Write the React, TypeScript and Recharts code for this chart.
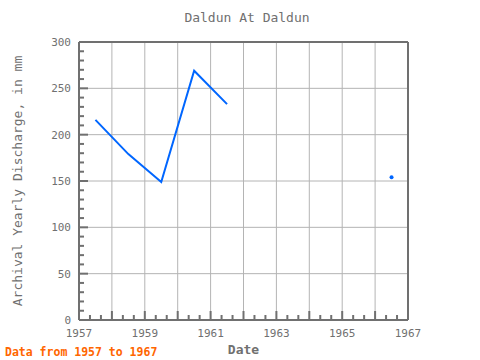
import React from 'react';
import { ComposedChart, Line, XAxis, YAxis, ReferenceLine } from 'recharts';

// yearly values, mid-year positions
const years = [1957.5, 1958.5, 1959.5, 1960.5, 1961.5, 1962.5, 1963.5, 1964.5, 1965.5, 1966.5];
const discharge: Array<number | null> = [216, 179, 149, 269, 233, null, null, null, null, 154];

const xMajor = [1957, 1958, 1959, 1960, 1961, 1962, 1963, 1964, 1965, 1966, 1967];
const xLabels = [1957, 1959, 1961, 1963, 1965, 1967];
const yMajor = [0, 50, 100, 150, 200, 250, 300];

const xAll: number[] = [];
for (let y = 1957; y < 1967; y++) xAll.push(y, y + 1 / 3, y + 2 / 3);
xAll.push(1967);
const yAll: number[] = [];
for (let v = 0; v <= 300; v += 10) yAll.push(v);

const data = years.map((year, i) => ({ year, value: discharge[i] }));

const AXIS = '#707070';
const TEXT = '#707070';
const GRID = '#b4b4b4';
const FONT = '"DejaVu Sans Mono", monospace';

const isMajorX = (v: number) => Math.abs(v - Math.round(v)) < 1e-6;
const isMajorY = (v: number) => v % 50 === 0;

const tickMark = (side: 'bottom' | 'top' | 'left' | 'right', x: number, y: number, v: number) => {
  const major = side === 'bottom' || side === 'top' ? isMajorX(v) : isMajorY(v);
  const len = major ? 9 : 5;
  let x2 = x;
  let y2 = y;
  if (side === 'bottom') y2 = y - len;
  if (side === 'top') y2 = y + len;
  if (side === 'left') x2 = x + len;
  if (side === 'right') x2 = x - len;
  return <line x1={x} y1={y} x2={x2} y2={y2} stroke={AXIS} strokeWidth={2} />;
};

const mark = (side: 'top' | 'right') => (props: any) => {
  const { x, y, payload } = props;
  return tickMark(side, x, y, payload.value);
};

const bottomTick = (props: any) => {
  const { x, y, payload } = props;
  const v = payload.value;
  const label = xLabels.find((l) => Math.abs(l - v) < 1e-6);
  return (
    <g>
      {tickMark('bottom', x, y, v)}
      {label !== undefined && (
        <text x={x} y={y + 9} dy="0.71em" textAnchor="middle" fill={TEXT} fontSize={11} fontFamily={FONT}>
          {label}
        </text>
      )}
    </g>
  );
};

const leftTick = (props: any) => {
  const { x, y, payload } = props;
  const v = payload.value;
  return (
    <g>
      {tickMark('left', x, y, v)}
      {isMajorY(v) && (
        <text x={x - 8} y={y} dy="0.35em" textAnchor="end" fill={TEXT} fontSize={11} fontFamily={FONT}>
          {v}
        </text>
      )}
    </g>
  );
};

const loneDot = (props: any) => {
  const { cx, cy, index } = props;
  const prev = index > 0 ? discharge[index - 1] : null;
  const next = index < discharge.length - 1 ? discharge[index + 1] : null;
  if (discharge[index] == null || prev != null || next != null) return <g key={index} />;
  return <circle key={index} cx={cx} cy={cy} r={2} fill="#0066ff" />;
};

const App: React.FC = () => (
  <div style={{ position: 'absolute', top: 0, left: 0, width: 480, height: 360, background: '#fff', overflow: 'hidden' }}>
    <div
      style={{
        position: 'absolute',
        top: 10,
        left: 0,
        width: 480,
        paddingLeft: 14,
        boxSizing: 'border-box',
        textAlign: 'center',
        fontFamily: FONT,
        fontSize: 13,
        color: TEXT,
      }}
    >
      Daldun At Daldun
    </div>
    <ComposedChart
      width={480}
      height={360}
      data={data}
      margin={{ top: 41, right: 71, bottom: 0, left: 0 }}
      style={{ position: 'absolute', top: 0, left: 0 }}
    >
      {xMajor.map((v) => (
        <ReferenceLine key={'x' + v} x={v} xAxisId={0} yAxisId={0} stroke={GRID} strokeWidth={1} />
      ))}
      {yMajor.map((v) => (
        <ReferenceLine key={'y' + v} y={v} xAxisId={0} yAxisId={0} stroke={GRID} strokeWidth={1} />
      ))}
      <XAxis
        xAxisId={0}
        dataKey="year"
        type="number"
        domain={[1957, 1967]}
        ticks={xAll}
        interval={0}
        height={40}
        tickSize={0}
        tickMargin={0}
        tickLine={false}
        tick={bottomTick}
        axisLine={{ stroke: AXIS, strokeWidth: 2 }}
        label={{ value: 'Date', position: 'insideBottom', offset: 6, fill: TEXT, fontSize: 13, fontWeight: 'bold', fontFamily: FONT }}
      />
      <XAxis
        xAxisId="t"
        orientation="top"
        type="number"
        domain={[1957, 1967]}
        ticks={xAll}
        interval={0}
        height={1}
        tickSize={0}
        tickMargin={0}
        tickLine={false}
        axisLine={{ stroke: AXIS, strokeWidth: 2 }}
        tick={mark('top')}
      />
      <YAxis
        yAxisId={0}
        type="number"
        domain={[0, 300]}
        ticks={yAll}
        interval={0}
        width={79}
        tickSize={0}
        tickMargin={0}
        tickLine={false}
        tick={leftTick}
        axisLine={{ stroke: AXIS, strokeWidth: 2 }}
        label={{
          value: 'Archival Yearly Discharge, in mm',
          angle: -90,
          position: 'center',
          dx: -22,
          fill: TEXT,
          fontSize: 13,
          fontFamily: FONT,
        }}
      />
      <YAxis
        yAxisId="r"
        orientation="right"
        type="number"
        domain={[0, 300]}
        ticks={yAll}
        interval={0}
        width={1}
        tickSize={0}
        tickMargin={0}
        tickLine={false}
        axisLine={{ stroke: AXIS, strokeWidth: 2 }}
        tick={mark('right')}
      />
      <Line
        xAxisId={0}
        yAxisId={0}
        type="linear"
        dataKey="value"
        stroke="#0066ff"
        strokeWidth={2}
        dot={loneDot}
        activeDot={false}
        isAnimationActive={false}
      />
    </ComposedChart>
    <div
      style={{
        position: 'absolute',
        left: 5,
        top: 345,
        fontFamily: FONT,
        fontSize: 11.5,
        fontWeight: 'bold',
        color: '#ff6600',
      }}
    >
      Data from 1957 to 1967
    </div>
  </div>
);

export default App;
